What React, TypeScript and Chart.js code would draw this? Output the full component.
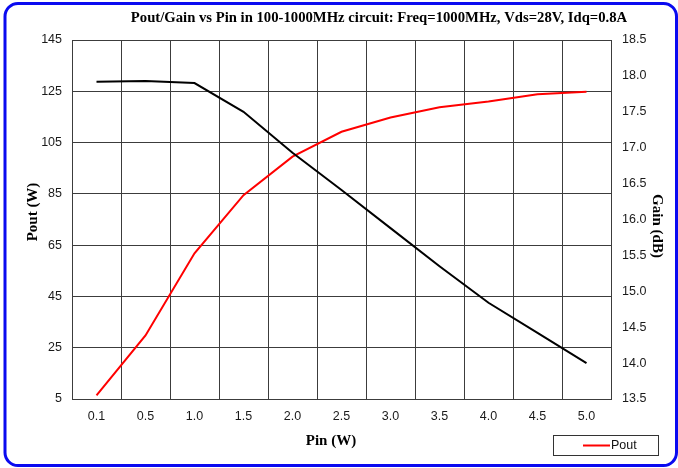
import React, { useEffect, useRef } from "react";
import { Chart, registerables } from "chart.js";

Chart.register(...registerables);

const pinLabels = ["0.1", "0.5", "1.0", "1.5", "2.0", "2.5", "3.0", "3.5", "4.0", "4.5", "5.0"];
const poutValues = [6.4, 29.8, 61.8, 84.5, 99.5, 109.2, 114.8, 118.8, 121.0, 123.8, 124.8];
const gainValues = [17.92, 17.93, 17.9, 17.5, 16.93, 16.41, 15.88, 15.35, 14.84, 14.42, 14.0];

const titleText = "Pout/Gain vs Pin in 100-1000MHz circuit: Freq=1000MHz, Vds=28V, Idq=0.8A";
const xTitle = "Pin (W)";
const yLeftTitle = "Pout (W)";
const yRightTitle = "Gain (dB)";
const legendLabel = "Pout";

const W = 678;
const H = 468;

const decorPlugin = {
  id: "decor",
  beforeDraw(chart: any) {
    const ctx = chart.ctx;
    ctx.save();
    ctx.fillStyle = "#ffffff";
    ctx.fillRect(0, 0, W, H);
    ctx.restore();
  },
  afterDraw(chart: any) {
    const ctx = chart.ctx;
    ctx.save();
    // frame
    ctx.strokeStyle = "#0a0af0";
    ctx.lineWidth = 3;
    ctx.beginPath();
    const x0 = 5, y0 = 3.5, x1 = 676.5, y1 = 465.5, r = 13;
    ctx.moveTo(x0 + r, y0);
    ctx.lineTo(x1 - r, y0);
    ctx.arcTo(x1, y0, x1, y0 + r, r);
    ctx.lineTo(x1, y1 - r);
    ctx.arcTo(x1, y1, x1 - r, y1, r);
    ctx.lineTo(x0 + r, y1);
    ctx.arcTo(x0, y1, x0, y1 - r, r);
    ctx.lineTo(x0, y0 + r);
    ctx.arcTo(x0, y0, x0 + r, y0, r);
    ctx.closePath();
    ctx.stroke();

    // title
    ctx.fillStyle = "#000";
    ctx.font = "bold 14.7px 'Liberation Serif', 'Times New Roman', serif";
    ctx.textAlign = "center";
    ctx.textBaseline = "middle";
    ctx.fillText(titleText, 379, 18);

    // x title
    ctx.font = "bold 15px 'Liberation Serif', 'Times New Roman', serif";
    ctx.fillText(xTitle, 331, 441);

    // left y title
    ctx.save();
    ctx.translate(33, 212);
    ctx.rotate(-Math.PI / 2);
    ctx.fillText(yLeftTitle, 0, 0);
    ctx.restore();

    // right y title
    ctx.save();
    ctx.translate(657, 226);
    ctx.rotate(Math.PI / 2);
    ctx.fillText(yRightTitle, 0, 0);
    ctx.restore();

    // legend
    ctx.strokeStyle = "#333";
    ctx.lineWidth = 1;
    ctx.strokeRect(553.5, 435.5, 105, 20);
    ctx.strokeStyle = "#ff0000";
    ctx.lineWidth = 2;
    ctx.beginPath();
    ctx.moveTo(583, 445.5);
    ctx.lineTo(610, 445.5);
    ctx.stroke();
    ctx.fillStyle = "#111";
    ctx.font = "12.5px 'Liberation Sans', Arial, sans-serif";
    ctx.textAlign = "left";
    ctx.fillText(legendLabel, 611, 446);
    ctx.restore();
  },
};

export default function App() {
  const ref = useRef<HTMLCanvasElement | null>(null);

  useEffect(() => {
    if (!ref.current) return;
    const tickFont = { family: "'Liberation Sans', Arial, sans-serif", size: 12.5 };
    const gridColor = "#3c3c3c";
    const chart = new Chart(ref.current, {
      type: "line",
      data: {
        labels: pinLabels,
        datasets: [
          {
            label: "Gain",
            data: gainValues,
            yAxisID: "y1",
            borderColor: "#000000",
            borderWidth: 2,
            pointRadius: 0,
            tension: 0,
            fill: false,
          },
          {
            label: legendLabel,
            data: poutValues,
            yAxisID: "y",
            borderColor: "#ff0000",
            borderWidth: 2,
            pointRadius: 0,
            tension: 0,
            fill: false,
          },
        ],
      },
      options: {
        responsive: false,
        animation: false,
        devicePixelRatio: 1,
        layout: { padding: { top: 40, left: 0, right: 0, bottom: 0 } },
        plugins: {
          legend: { display: false },
          title: { display: false },
          tooltip: { enabled: false },
        },
        scales: {
          x: {
            type: "category",
            offset: true,
            grid: { offset: true, color: gridColor, lineWidth: 1, drawTicks: false },
            border: { color: gridColor, width: 1 },
            ticks: { font: tickFont, color: "#1a1a1a", padding: 10, maxRotation: 0, autoSkip: false },
            afterFit: (s: any) => {
              s.height = 69;
            },
          },
          y: {
            position: "left",
            min: 5,
            max: 145,
            grid: { color: gridColor, lineWidth: 1, drawTicks: false },
            border: { color: gridColor, width: 1 },
            ticks: { stepSize: 20, font: tickFont, color: "#1a1a1a", padding: 10 },
            afterFit: (s: any) => {
              s.width = 72;
            },
          },
          y1: {
            position: "right",
            min: 13.5,
            max: 18.5,
            grid: { drawOnChartArea: false, drawTicks: false },
            border: { color: gridColor, width: 1 },
            ticks: {
              stepSize: 0.5,
              font: tickFont,
              color: "#1a1a1a",
              padding: 11,
              callback: (v: any) => Number(v).toFixed(1),
            },
            afterFit: (s: any) => {
              s.width = 67;
            },
          },
        },
      },
      plugins: [decorPlugin],
    });
    return () => chart.destroy();
  }, []);

  return (
    <div style={{ position: "fixed", left: 0, top: 0, width: W, height: H, background: "#fff" }}>
      <canvas ref={ref} width={W} height={H} style={{ width: W, height: H, display: "block" }} />
    </div>
  );
}
